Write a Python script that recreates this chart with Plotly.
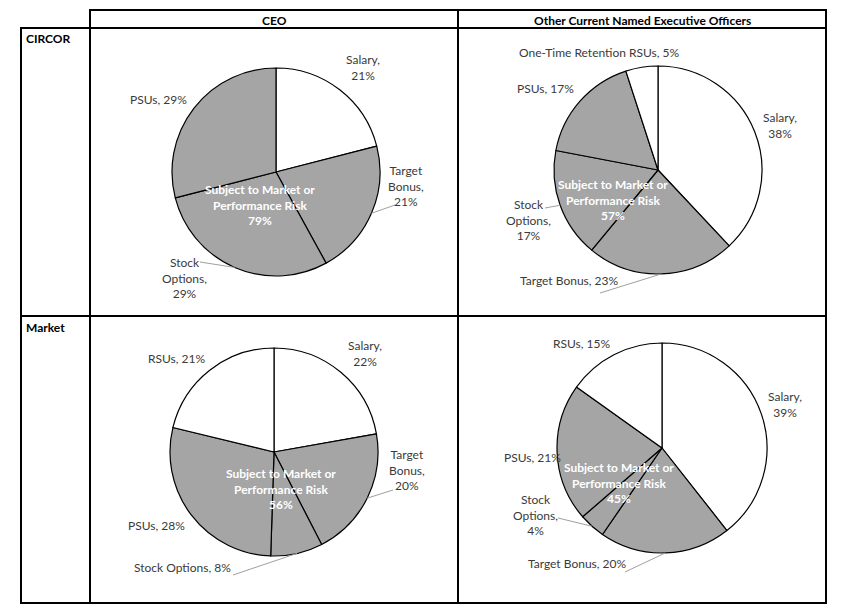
import math
import plotly.graph_objects as go

W, H = 860, 610

# ---------------- data ----------------
col_headers = ["CEO", "Other Current Named Executive Officers"]
row_headers = ["CIRCOR", "Market"]

circor_ceo_labels = ["Salary", "Target Bonus", "Stock Options", "PSUs"]
circor_ceo_values = [21, 21, 29, 29]

circor_neo_labels = ["Salary", "Target Bonus", "Stock Options", "PSUs", "One-Time Retention RSUs"]
circor_neo_values = [38, 23, 17, 17, 5]

market_ceo_labels = ["Salary", "Target Bonus", "Stock Options", "PSUs", "RSUs"]
market_ceo_values = [22, 20, 8, 28, 21]

market_neo_labels = ["Salary", "Target Bonus", "Stock Options", "PSUs", "RSUs"]
market_neo_values = [39, 20, 4, 21, 15]

risk_components = ["Target Bonus", "Stock Options", "PSUs"]
center_title = "Subject to Market or<br>Performance Risk"

# ---------------- styles / layout ----------------
FONT = "Lato"
FS = 12
GRAY = "#A5A5A5"
WHITE = "#FFFFFF"
LABEL_COLOR = "#3A3A3A"

# pie geometry in pixels: (cx, cy, r)
pie_geom = [(276, 172, 104), (658, 170, 104), (274, 452, 104), (662, 448, 105)]
center_text_pos = [(260, 205), (613, 200), (281, 489), (619, 483)]

# label placement per pie: label -> (x, y, style, leader_outer_point or None)
label_layout = [
    {"Salary": (363, 68, "two", None),
     "Target Bonus": (406, 186, "three", (395, 205)),
     "Stock Options": (184, 278, "three", (200, 262)),
     "PSUs": (158, 100, "one", None)},
    {"Salary": (780, 125, "two", None),
     "Target Bonus": (569, 280, "one", (600, 293)),
     "Stock Options": (528, 220, "three", (545, 208)),
     "PSUs": (545, 89, "one", None),
     "One-Time Retention RSUs": (599, 52, "one", None)},
    {"Salary": (365, 353, "two", None),
     "Target Bonus": (407, 470, "three", (393, 490)),
     "Stock Options": (182, 567, "one", (233, 575)),
     "PSUs": (156, 525, "one", None),
     "RSUs": (176, 358, "one", None)},
    {"Salary": (785, 404, "two", None),
     "Target Bonus": (577, 563, "one", (625, 572)),
     "Stock Options": (535, 515, "three", (558, 518)),
     "PSUs": (532, 457, "one", None),
     "RSUs": (581, 343, "one", None)},
]

pies = [
    (circor_ceo_labels, circor_ceo_values),
    (circor_neo_labels, circor_neo_values),
    (market_ceo_labels, market_ceo_values),
    (market_neo_labels, market_neo_values),
]


def px(x):
    return x / W


def py(y):
    return 1 - y / H


def fmt_label(name, val, style):
    if style == "one":
        return f"{name}, {val}%"
    if style == "two":
        return f"{name},<br>{val}%"
    words = name.split(" ")
    return "<br>".join(words[:-1] + [words[-1] + ","]) + f"<br>{val}%"


fig = go.Figure()
annotations = []
shapes = []

for i, (labels, values) in enumerate(pies):
    cx, cy, r = pie_geom[i]
    colors = [GRAY if l in risk_components else WHITE for l in labels]
    fig.add_trace(go.Pie(
        labels=labels, values=values, sort=False, direction="clockwise",
        rotation=0, textinfo="none", hoverinfo="label+percent",
        marker=dict(colors=colors, line=dict(color="#000000", width=1.2)),
        domain=dict(x=[px(cx - r), px(cx + r)], y=[py(cy + r), py(cy - r)]),
        showlegend=False,
    ))
    total = sum(values)
    cum = 0
    for lab, val in zip(labels, values):
        mid = (cum + val / 2) / total * 2 * math.pi
        cum += val
        x, y, style, leader = label_layout[i][lab]
        annotations.append(dict(
            x=px(x), y=py(y), xref="paper", yref="paper", showarrow=False,
            text=fmt_label(lab, val, style), align="center",
            xanchor="center", yanchor="middle",
            font=dict(family=FONT, size=FS, color=LABEL_COLOR)))
        if leader is not None:
            ex = cx + r * math.sin(mid)
            ey = cy - r * math.cos(mid)
            shapes.append(dict(type="line", xref="paper", yref="paper",
                               x0=px(leader[0]), y0=py(leader[1]),
                               x1=px(ex), y1=py(ey),
                               line=dict(color="#A0A0A0", width=1)))
    risk = sum(v for l, v in zip(labels, values) if l in risk_components)
    tx, ty = center_text_pos[i]
    annotations.append(dict(
        x=px(tx), y=py(ty), xref="paper", yref="paper", showarrow=False,
        text=f"<b>{center_title}<br>{risk}%</b>", align="center",
        xanchor="center", yanchor="middle",
        font=dict(family=FONT, size=FS, color="#FFFFFF")))

# table headers
header_pos = [(274, 20), (642, 20)]
for (x, y), t in zip(header_pos, col_headers):
    annotations.append(dict(x=px(x), y=py(y), xref="paper", yref="paper",
                            showarrow=False, text=f"<b>{t}</b>",
                            xanchor="center", yanchor="middle",
                            font=dict(family=FONT, size=FS, color="#000000")))
row_pos = [(24, 39), (24, 327)]
for (x, y), t in zip(row_pos, row_headers):
    annotations.append(dict(x=px(x), y=py(y), xref="paper", yref="paper",
                            showarrow=False, text=f"<b>{t}</b>",
                            xanchor="left", yanchor="middle",
                            font=dict(family=FONT, size=FS, color="#000000")))

# table grid lines
grid_h = [(10, 90, 826), (28, 21, 826), (316, 21, 826), (603, 21, 826)]
grid_v = [(21, 28, 603), (90, 10, 603), (458, 10, 603), (826, 10, 603)]
for y, x0, x1 in grid_h:
    shapes.append(dict(type="line", xref="paper", yref="paper",
                       x0=px(x0 - 1), x1=px(x1 + 1), y0=py(y), y1=py(y),
                       line=dict(color="#000000", width=2)))
for x, y0, y1 in grid_v:
    shapes.append(dict(type="line", xref="paper", yref="paper",
                       x0=px(x), x1=px(x), y0=py(y0 - 1), y1=py(y1 + 1),
                       line=dict(color="#000000", width=2)))

fig.update_layout(
    width=W, height=H, margin=dict(l=0, r=0, t=0, b=0),
    paper_bgcolor="#FFFFFF", plot_bgcolor="#FFFFFF",
    annotations=annotations, shapes=shapes,
    font=dict(family=FONT),
)

fig.write_html("out.html", config={"displayModeBar": False},
               post_script="document.body.style.margin='0';document.body.style.overflow='hidden';")
